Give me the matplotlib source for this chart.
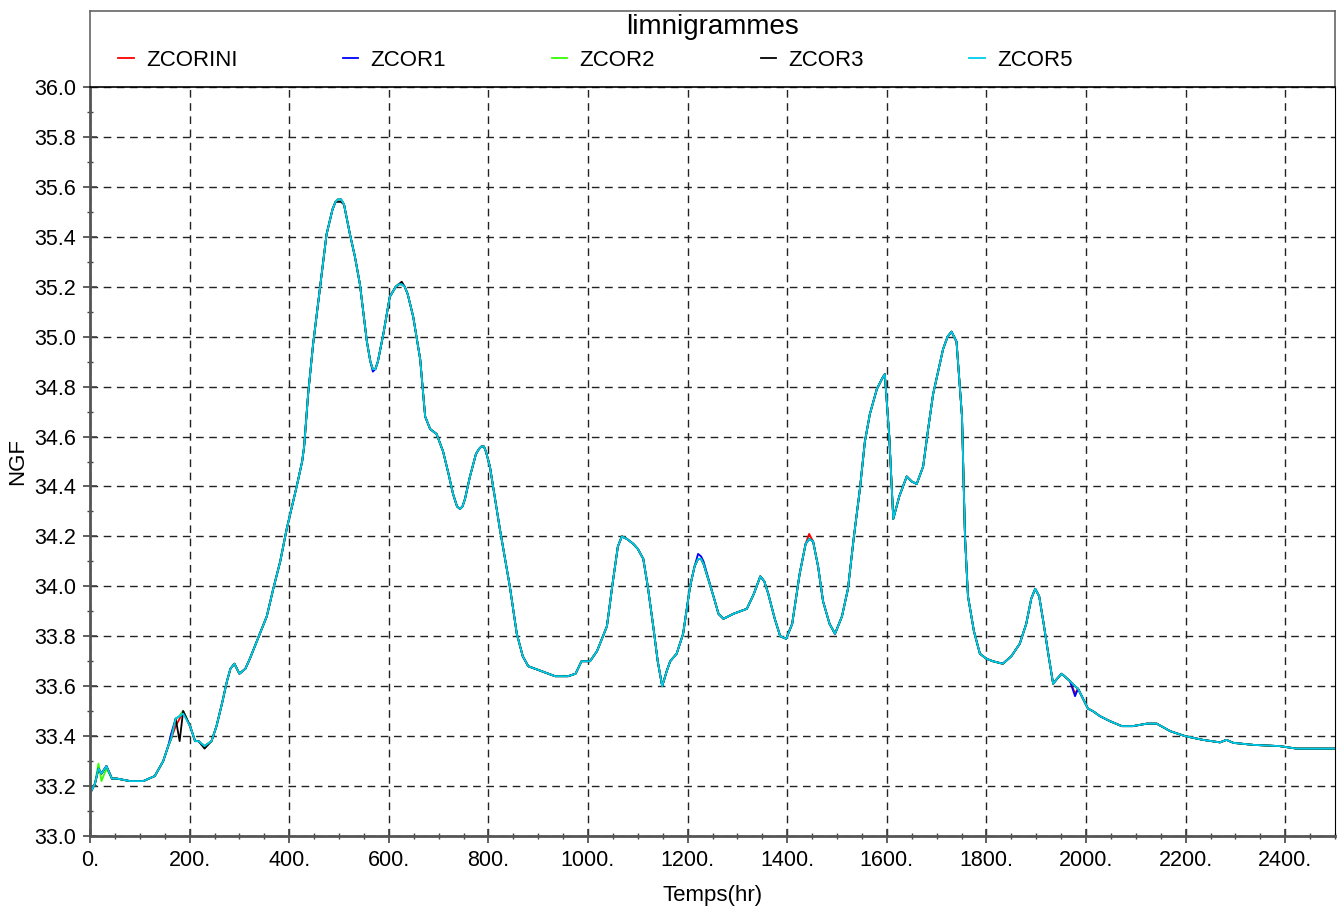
import matplotlib
matplotlib.use("Agg")
import matplotlib.pyplot as plt
import numpy as np
from matplotlib.ticker import MultipleLocator, FuncFormatter

plt.rcParams['font.family'] = ['Liberation Sans', 'DejaVu Sans']

# common shape of the water level curves (time in hr, level in m NGF)
TIME = [0, 10, 17, 23, 33, 44, 54, 80, 107, 130, 147, 157, 163, 172, 180, 187,
        201, 211, 218, 230, 244, 254, 265, 275, 282, 290, 300, 312, 321, 335,
        355, 368, 382, 395, 415, 426, 430, 438, 448, 462, 475, 487, 493, 498,
        504, 510, 522, 532, 542, 556, 563, 568, 573, 578, 589, 602, 614, 620,
        626, 632, 638, 649, 663, 673, 683, 696, 709, 720, 729, 737, 743, 748,
        753, 763, 775, 781, 786, 791, 795, 803, 823, 843, 857, 869, 880, 907,
        934, 960, 975, 987, 1004, 1018, 1038, 1050, 1060, 1068, 1078, 1091,
        1100, 1111, 1120, 1131, 1140, 1149, 1158, 1165, 1178, 1191, 1205, 1214,
        1221, 1227, 1232, 1252, 1262, 1272, 1292, 1319, 1333, 1346, 1354, 1362,
        1375, 1386, 1398, 1410, 1425, 1437, 1444, 1452, 1462, 1472, 1485, 1496,
        1510, 1522, 1534, 1546, 1556, 1566, 1580, 1590, 1596, 1605, 1613, 1625,
        1640, 1650, 1660, 1673, 1683, 1693, 1703, 1713, 1722, 1730, 1740, 1751,
        1757, 1763, 1775, 1787, 1800, 1813, 1833, 1850, 1867, 1880, 1890, 1898,
        1906, 1915, 1925, 1934, 1942, 1951, 1968, 1978, 1984, 2004, 2014, 2028,
        2048, 2072, 2094, 2122, 2142, 2169, 2199, 2235, 2269, 2282, 2296, 2336,
        2389, 2423, 2456, 2500]
LEVEL = [33.17, 33.21, 33.27, 33.25, 33.28, 33.23, 33.23, 33.22, 33.22, 33.24,
         33.30, 33.36, 33.39, 33.47, 33.48, 33.50, 33.44, 33.38, 33.38, 33.36,
         33.38, 33.44, 33.53, 33.62, 33.67, 33.69, 33.65, 33.67, 33.71, 33.78,
         33.88, 33.99, 34.10, 34.23, 34.40, 34.50, 34.56, 34.77, 34.97, 35.20,
         35.41, 35.51, 35.54, 35.55, 35.55, 35.53, 35.41, 35.32, 35.21, 34.98,
         34.90, 34.87, 34.87, 34.90, 35.01, 35.16, 35.20, 35.21, 35.21, 35.20,
         35.17, 35.08, 34.91, 34.68, 34.63, 34.61, 34.54, 34.45, 34.37, 34.32,
         34.31, 34.32, 34.35, 34.44, 34.53, 34.55, 34.56, 34.56, 34.54, 34.48,
         34.23, 34.00, 33.81, 33.72, 33.68, 33.66, 33.64, 33.64, 33.65, 33.70,
         33.70, 33.74, 33.84, 34.02, 34.16, 34.20, 34.19, 34.17, 34.15, 34.11,
         34.00, 33.84, 33.70, 33.60, 33.66, 33.70, 33.73, 33.81, 34.00, 34.08,
         34.11, 34.11, 34.09, 33.96, 33.89, 33.87, 33.89, 33.91, 33.97, 34.04,
         34.02, 33.97, 33.87, 33.80, 33.79, 33.85, 34.05, 34.17, 34.19, 34.18,
         34.08, 33.94, 33.85, 33.81, 33.88, 33.99, 34.20, 34.39, 34.58, 34.69,
         34.79, 34.83, 34.85, 34.60, 34.27, 34.36, 34.44, 34.42, 34.41, 34.48,
         34.63, 34.77, 34.86, 34.95, 35.00, 35.02, 34.98, 34.68, 34.20, 33.96,
         33.82, 33.73, 33.71, 33.70, 33.69, 33.72, 33.77, 33.85, 33.95, 33.99,
         33.96, 33.85, 33.72, 33.61, 33.63, 33.65, 33.62, 33.60, 33.59, 33.51,
         33.50, 33.48, 33.46, 33.44, 33.44, 33.45, 33.45, 33.42, 33.40, 33.385,
         33.375, 33.385, 33.373, 33.365, 33.36, 33.35, 33.35, 33.35]

# where each run departs from the common curve {time: level}
SERIES = ["ZCORINI", "ZCOR1", "ZCOR2", "ZCOR3", "ZCOR5"]
COLORS = ["red", "blue", "#33ff00", "black", "#00ccee"]
ZCORINI_DEV = {172: 33.44, 180: 33.47, 1444: 34.21, 1978: 33.57}
ZCOR1_DEV = {163: 33.41, 1221: 34.13, 1227: 34.12, 1232: 34.10, 568: 34.86,
             1978: 33.56}
ZCOR2_DEV = {17: 33.29, 23: 33.22, 33: 33.27}
ZCOR3_DEV = {180: 33.38, 230: 33.35, 498: 35.54, 504: 35.54, 626: 35.22}
ZCOR5_DEV = {187: 33.49}
DEVS = [ZCORINI_DEV, ZCOR1_DEV, ZCOR2_DEV, ZCOR3_DEV, ZCOR5_DEV]

W, H = 1338, 909
fig = plt.figure(figsize=(W / 100, H / 100), dpi=100)
x0, x1 = 90 / W, 1335 / W
y_bot, y_top, y_box = 1 - 836 / H, 1 - 87 / H, 1 - 11 / H
ax = fig.add_axes([x0, y_bot, x1 - x0, y_top - y_bot])
ax_box = fig.add_axes([x0, y_top, x1 - x0, y_box - y_top])
ax_box.set_xticks([])
ax_box.set_yticks([])
for s in ax_box.spines.values():
    s.set_color("#666666")
    s.set_linewidth(1.2)
ax_box.spines["bottom"].set_color("black")

t = np.array(TIME)
for name, col, dev in zip(SERIES, COLORS, DEVS):
    z = np.array(LEVEL, dtype=float)
    for k, v in dev.items():
        z[TIME.index(k)] = v
    ax.plot(t, z, color=col, lw=1.3, label=name, solid_joinstyle="round")

ax.set_xlim(0, 2500)
ax.set_ylim(33.0, 36.0)
ax.xaxis.set_major_locator(MultipleLocator(200))
ax.xaxis.set_minor_locator(MultipleLocator(50))
ax.yaxis.set_major_locator(MultipleLocator(0.2))
ax.yaxis.set_minor_locator(MultipleLocator(0.1))
ax.xaxis.set_major_formatter(FuncFormatter(lambda v, p: "%d." % v))
ax.yaxis.set_major_formatter(FuncFormatter(lambda v, p: "%.1f" % v))
ax.grid(True, which="major", color="#222222", ls=(0, (5.5, 4)), lw=1.0)
ax.tick_params(which="major", direction="inout", length=10, width=1.2,
               color="#444444", labelsize=15.5, pad=5)
ax.tick_params(which="minor", direction="inout", length=5, width=1.0,
               color="#444444")
for side in ["left", "bottom"]:
    ax.spines[side].set_color("#555555")
    ax.spines[side].set_linewidth(2.0)
ax.spines["right"].set_color("black")
ax.spines["top"].set_visible(False)

ax.set_xlabel("Temps(hr)", fontsize=16, labelpad=10)
ax.set_ylabel("NGF", fontsize=16, labelpad=4)

fig.text(713 / W, 1 - 27 / H, "limnigrammes", fontsize=20, ha="center",
         va="center")
handles, labels = ax.get_legend_handles_labels()
fig.legend(handles, labels, loc="center left",
           bbox_to_anchor=(118 / W, 1 - 60 / H), ncol=5, frameon=False,
           fontsize=16, handlelength=0.7, handletextpad=0.55,
           columnspacing=4.75, borderpad=0, borderaxespad=0)

fig.savefig("out.png", dpi=100)
